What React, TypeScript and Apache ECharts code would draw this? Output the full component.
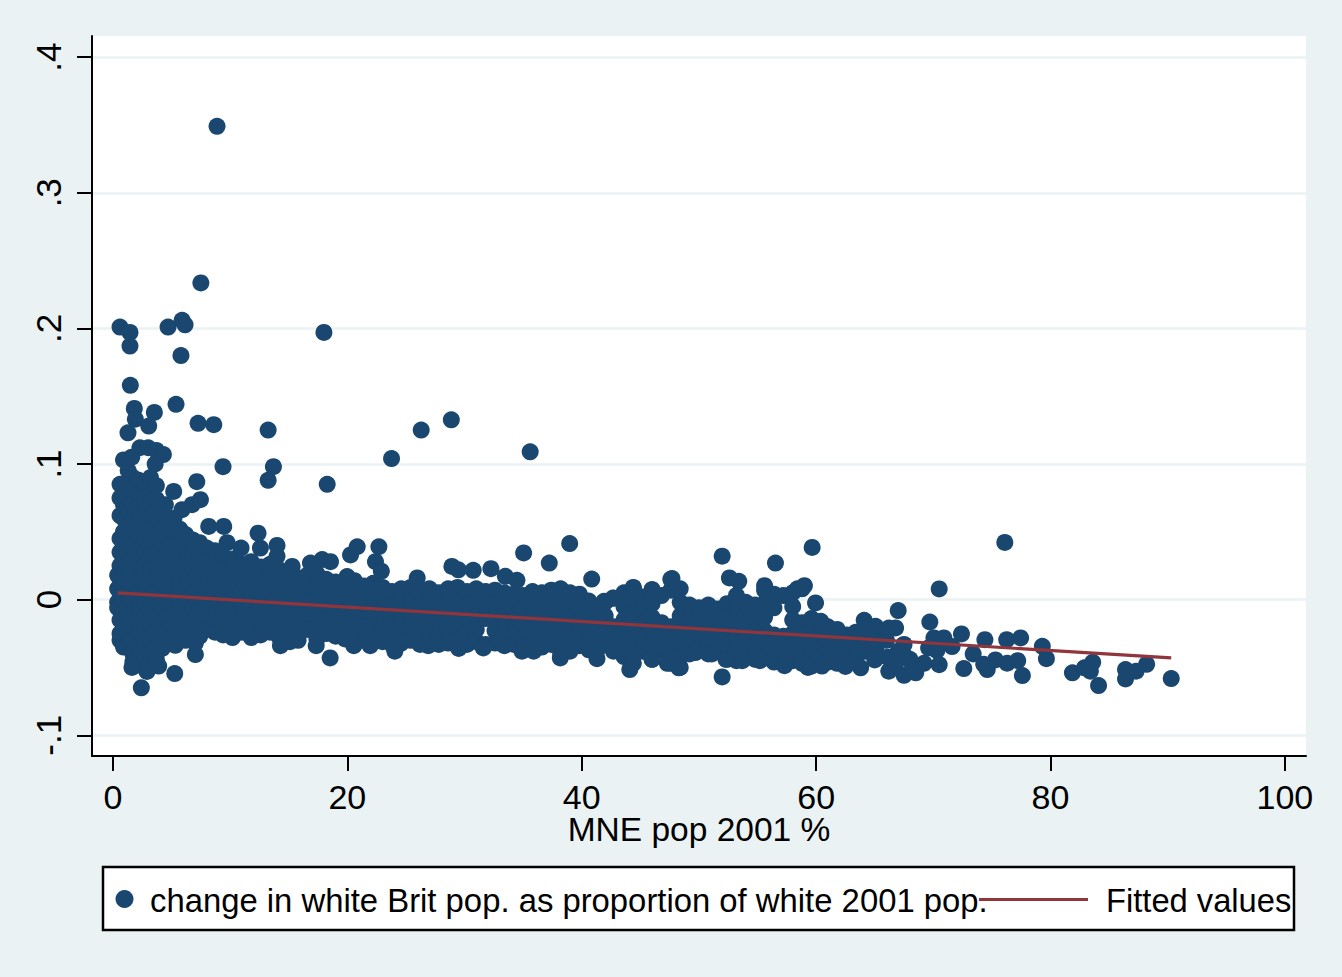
import React, { useEffect, useRef } from "react";
import * as echarts from "echarts";

const xTickValues = [0, 20, 40, 60, 80, 100];
const yTickValues = [-0.1, 0, 0.1, 0.2, 0.3, 0.4];
const yTickLabels = ["-.1", "0", ".1", ".2", ".3", ".4"];
const xTitle = "MNE pop 2001 %";
const scatterName = "change in white Brit pop. as proportion of white 2001 pop.";
const fitName = "Fitted values";

const fitX = [0.4, 90.3];
const fitY = [0.005, -0.043];

// First number: MNE share; the others: change x 1000, read column by column off the dense cloud.
const cloudColumns: number[][] = [
  [0.4, 18, 8, -2, -6],
  [0.6, 85, 75, 62, 45, 35, 25, 15, 5, -5, -15, -25, -30],
  [0.9, 103, 84, 70, 60, 50, 40, 30, 20, 10, 0, -10, -20, -30, -35],
  [1.3, 95, 85, 75, 65, 55, 45, 35, 25, 15, 5, -5, -15, -25, -35],
  [1.7, 90, 80, 70, 60, 50, 40, 30, 20, 10, 0, -10, -20, -30, -40, -46],
  [2.2, 88, 78, 68, 58, 48, 38, 28, 15, 5, -5, -15, -25, -35, -45],
  [2.7, 85, 75, 65, 55, 45, 35, 25, 18, 8, -2, -12, -22, -32, -42, -50],
  [3.2, 90, 82, 72, 62, 52, 42, 32, 22, 12, 2, -8, -18, -28, -38, -47],
  [3.7, 84, 74, 64, 54, 44, 34, 24, 14, 4, -6, -16, -26, -36, -44],
  [4.2, 62, 52, 42, 32, 22, 12, 2, -8, -18, -28, -36],
  [4.7, 57, 47, 37, 27, 17, 7, -3, -13, -23, -31],
  [5.2, 60, 50, 40, 30, 20, 10, 0, -10, -20, -28],
  [5.7, 52, 42, 32, 22, 12, 2, -8, -18, -26],
  [6.2, 48, 38, 28, 18, 8, -2, -12, -22, -30],
  [6.8, 44, 34, 24, 14, 4, -6, -16, -26],
  [7.4, 42, 32, 22, 12, 2, -8, -18, -27],
  [8, 38, 28, 18, 8, -2, -12, -22],
  [8.7, 36, 26, 16, 6, -4, -14, -24],
  [9.4, 32, 22, 12, 2, -8, -18, -26],
  [10.2, 30, 20, 10, 0, -10, -20, -28],
  [11, 26, 16, 6, -4, -14, -24],
  [11.8, 28, 18, 8, -2, -12, -22, -28],
  [12.6, 24, 14, 4, -6, -16, -26],
  [13.4, 26, 16, 6, -4, -14, -24],
  [14.2, 22, 12, 2, -8, -18, -28],
  [15, 20, 10, 0, -10, -20, -27],
  [15.8, 16, 6, -4, -14, -24, -30],
  [16.6, 18, 8, -2, -12, -22],
  [17.4, 19, 9, -1, -11, -21, -29],
  [18.2, 15, 5, -5, -15, -25],
  [19, 13, 3, -7, -17, -27],
  [19.8, 11, 1, -9, -19, -29],
  [20.6, 14, 4, -6, -16, -26],
  [21.4, 10, 0, -10, -20, -30],
  [22.2, 12, 2, -8, -18, -28],
  [23, 9, -1, -11, -21, -31],
  [23.8, 6, -4, -14, -24, -33],
  [24.6, 8, -2, -12, -22, -32],
  [25.4, 9, -1, -11, -21, -30],
  [26.2, 6, -4, -14, -24, -33],
  [27, 8, -2, -12, -22, -31],
  [27.8, 5, -5, -15, -25, -33],
  [28.6, 8, -2, -12, -22, -32],
  [29.4, 9, -1, -11, -21, -30],
  [30.2, 6, -4, -14, -24, -33],
  [31, 8, -2, -12, -22, -31],
  [31.8, 6, -4, -14, -33],
  [32.6, 7, -3, -13, -23, -32],
  [33.4, 5, -5, -15, -25, -34],
  [34.2, 4, -6, -16, -26, -33],
  [35, 3, -7, -17, -27, -35],
  [35.8, 6, -4, -14, -24, -33],
  [36.6, 5, -5, -15, -25, -35],
  [37.4, 7, -3, -13, -23, -33],
  [38.2, 8, -2, -12, -22, -32, -40],
  [39, 5, -5, -15, -25, -35, -38],
  [39.8, 4, -6, -16, -26, -34],
  [40.6, -1, -11, -21, -31, -37],
  [41.4, -8, -18, -28, -36],
  [42, -2, -12, -22, -32],
  [42.7, 1, -20, -30, -38],
  [43.6, 5, -5, -15, -25, -35, -42],
  [44.4, 9, -1, -11, -21, -31, -41, -47],
  [45.2, 2, -8, -18, -28, -38],
  [46, 7, -3, -13, -23, -33, -44],
  [46.8, 3, -17, -27, -37],
  [47.6, 15, 7, -20, -30, -40, -47],
  [48.4, 8, -2, -12, -22, -32, -42, -50],
  [49.2, -4, -14, -24, -34, -40],
  [50, -6, -16, -26, -36],
  [50.8, -4, -14, -24, -34, -40],
  [51.6, -7, -17, -27, -37],
  [52.4, -3, -13, -23, -33, -44],
  [53.2, 3, -7, -17, -27, -37, -45],
  [54, -2, -12, -22, -32, -42],
  [54.8, -4, -14, -24, -34, -44],
  [55.6, 7, -3, -13, -23, -33, -43],
  [56.4, 4, -6, -26, -36, -46],
  [57.2, 3, -27, -37, -47],
  [58, 5, -5, -15, -25, -35, -45],
  [58.8, 8, -17, -27, -37, -47],
  [59.6, -14, -24, -34, -44, -49],
  [60.4, -16, -26, -36, -44],
  [61, -20, -30, -38, -46],
  [61.8, -22, -30, -40, -47],
  [62.6, -26, -35, -44],
  [63.4, -24, -34, -44],
  [64.2, -18, -28, -38],
  [65, -22, -31, -40],
];

const outlierX = [
  8.88, 7.5, 0.6, 1.45, 1.45, 4.7, 5.9, 6.15, 5.8, 18.0, 1.48, 1.82, 1.91, 3.53, 3.05, 1.28, 5.38, 7.26, 8.6, 13.24,
  26.3, 23.77, 9.39, 13.69, 13.24, 7.15, 18.28, 28.87, 35.6, 1.6, 2.3, 3.0, 3.7, 4.3, 3.6, 5.18, 4.47, 5.89, 6.75, 7.46,
  8.17, 9.45, 9.74, 10.93, 12.38, 12.58, 14, 14, 15.29, 16.85, 17.85, 18.56, 20.27, 20.84, 22.69, 22.4, 22.9, 19.98, 25.96,
  2.42, 5.27, 18.53, 5.32, 7.03, 7.03, 1.62, 3.9, 2.9, 14.29, 15.1, 17.34, 20.55, 21.95, 24.05, 26.9,
  35.04, 38.97, 37.23, 40.85, 28.92, 29.47, 30.74, 32.25, 33.48, 34.47, 51.98, 56.53, 59.66, 52.6, 53.4, 47.7, 44.4, 46, 55.6, 59, 58.4, 59.95, 42.67, 41.9,
  51.98, 44.1, 41.3, 48.28, 38.17, 34.9, 35.9, 46, 47.3, 31.6, 29.5, 49.7, 51.1, 52.3, 53.7, 55.2, 57.3, 59.3,
  76.1, 70.5, 67.0, 69.7, 64.1, 65.07, 66.78, 66.2, 72.4, 70.05, 70.9, 74.4, 76.26, 77.45, 79.3, 79.65, 60.8, 62.1, 63.5,
  69.6, 71.6, 70.3, 70.5, 67.5, 67.5, 72.6, 73.4, 74.6, 74.3, 75.3, 76.3, 77.2, 77.6, 81.87, 82.9, 83.4, 83.6, 84.1, 86.4, 86.4, 87.3, 88.2, 90.3,
  63.8, 66.2, 67.5, 68.5, 69.2, 62.5, 60.5, 65, 64.2, 65.1, 66.1, 66.8, 68.2, 66, 67, 68,
];
const outlierY = [
  0.349, 0.2335, 0.201, 0.197, 0.187, 0.201, 0.206, 0.2026, 0.18, 0.197, 0.158, 0.141, 0.133, 0.138, 0.128, 0.123, 0.144, 0.13, 0.129, 0.125,
  0.125, 0.104, 0.098, 0.098, 0.088, 0.087, 0.085, 0.1326, 0.109, 0.105, 0.112, 0.112, 0.11, 0.107, 0.1, 0.0798, 0.07, 0.0663, 0.07, 0.0737,
  0.054, 0.054, 0.042, 0.038, 0.049, 0.038, 0.04, 0.032, 0.0245, 0.027, 0.0295, 0.028, 0.033, 0.039, 0.039, 0.028, 0.021, 0.017, 0.016,
  -0.065, -0.0545, -0.043, -0.0337, -0.0405, -0.032, -0.05, -0.049, -0.053, -0.034, -0.031, -0.034, -0.034, -0.034, -0.038, -0.034,
  0.0344, 0.0413, 0.027, 0.0152, 0.0245, 0.022, 0.0216, 0.0228, 0.0172, 0.0142, 0.032, 0.027, 0.0385, 0.016, 0.0135, 0.0155, 0.0086, 0.0074, 0.0103, 0.0103, 0.008, -0.0024, 0.0012, -0.0012,
  -0.057, -0.0516, -0.0435, -0.0503, -0.043, -0.038, -0.038, -0.044, -0.047, -0.0356, -0.036, -0.039, -0.04, -0.044, -0.045, -0.045, -0.0487, -0.05,
  0.0422, 0.0079, -0.0081, -0.0165, -0.0152, -0.0197, -0.0209, -0.021, -0.0253, -0.0282, -0.0282, -0.0295, -0.0295, -0.0282, -0.0344, -0.0435, -0.02, -0.027, -0.0255,
  -0.0356, -0.0346, -0.0375, -0.048, -0.033, -0.041, -0.0508, -0.04, -0.0516, -0.0477, -0.0445, -0.0469, -0.045, -0.056, -0.054, -0.0503, -0.0528, -0.0462, -0.0634, -0.0516, -0.0585, -0.0528, -0.0477, -0.0582,
  -0.0503, -0.0528, -0.0558, -0.054, -0.047, -0.0493, -0.049, -0.0445, -0.0356, -0.0356, -0.0425, -0.047, -0.0477, -0.03, -0.038, -0.044,
];

const FONT = "'Liberation Sans', Arial, sans-serif";
const BG = "#EAF2F3";
const NAVY = "#1A476F";
const MAROON = "#90353B";

export default function App() {
  const ref = useRef<HTMLDivElement>(null);
  useEffect(() => {
    const chart = echarts.init(ref.current!, undefined, { renderer: "svg" });
    const points: number[][] = [];
    cloudColumns.forEach((col) => {
      col.slice(1).forEach((v) => points.push([col[0], v / 1000]));
    });
    outlierX.forEach((x, i) => points.push([x, outlierY[i]]));
    const axisLine = { show: true, onZero: false, lineStyle: { color: "#000", width: 2 } };
    const tick = { show: true, length: 15, lineStyle: { color: "#000", width: 2 } };
    chart.setOption({
      animation: false,
      backgroundColor: BG,
      textStyle: { fontFamily: FONT },
      grid: { left: 92, right: 36, top: 36, bottom: 221, backgroundColor: "#fff", show: true, borderWidth: 0 },
      xAxis: {
        type: "value",
        min: -1.79,
        max: 101.8,
        name: xTitle,
        nameLocation: "middle",
        nameGap: 56,
        nameMoveOverlap: false,
        nameTextStyle: { fontFamily: FONT, fontSize: 33.5, color: "#000" },
        axisLine,
        axisTick: { ...tick, customValues: xTickValues },
        axisLabel: {
          customValues: xTickValues,
          margin: 24,
          fontFamily: FONT,
          fontSize: 34,
          color: "#000",
          formatter: (v: number) => String(v),
        },
        splitLine: { show: false },
      },
      yAxis: {
        type: "value",
        min: -0.1153,
        max: 0.4156,
        axisLine,
        axisTick: { ...tick, customValues: yTickValues },
        axisLabel: {
          customValues: yTickValues,
          rotate: 90,
          margin: 26,
          fontFamily: FONT,
          fontSize: 35,
          color: "#000",
          formatter: (v: number) => {
            let best = 0;
            yTickValues.forEach((t, i) => {
              if (Math.abs(t - v) < Math.abs(yTickValues[best] - v)) best = i;
            });
            return yTickLabels[best];
          },
        },
        splitLine: { show: true, lineStyle: { color: BG, width: 2.5 } },
      },
      series: [
        {
          type: "scatter",
          name: scatterName,
          data: points,
          symbol: "circle",
          symbolSize: 17,
          itemStyle: { color: NAVY, opacity: 1 },
          z: 3,
        },
        {
          type: "line",
          name: fitName,
          data: fitX.map((x, i) => [x, fitY[i]]),
          showSymbol: false,
          symbol: "none",
          lineStyle: { color: MAROON, width: 3.2 },
          z: 4,
        },
      ],
      graphic: [
        {
          type: "rect",
          shape: { x: 103, y: 867, width: 1191, height: 63 },
          style: { fill: "#fff", stroke: "#000", lineWidth: 2.5 },
        },
        { type: "circle", shape: { cx: 124.5, cy: 899, r: 9 }, style: { fill: NAVY } },
        {
          type: "text",
          x: 150,
          y: 900.5,
          style: { text: scatterName, font: `32.85px ${FONT}`, fill: "#000", verticalAlign: "middle", align: "left" },
        },
        {
          type: "line",
          shape: { x1: 979, y1: 899.5, x2: 1088, y2: 899.5 },
          style: { stroke: MAROON, lineWidth: 3 },
        },
        {
          type: "text",
          x: 1106,
          y: 900.5,
          style: { text: fitName, font: `32.7px ${FONT}`, fill: "#000", verticalAlign: "middle", align: "left" },
        },
      ],
    });
    return () => chart.dispose();
  }, []);
  return <div ref={ref} style={{ position: "absolute", left: 0, top: 0, width: 1342, height: 977 }} />;
}
